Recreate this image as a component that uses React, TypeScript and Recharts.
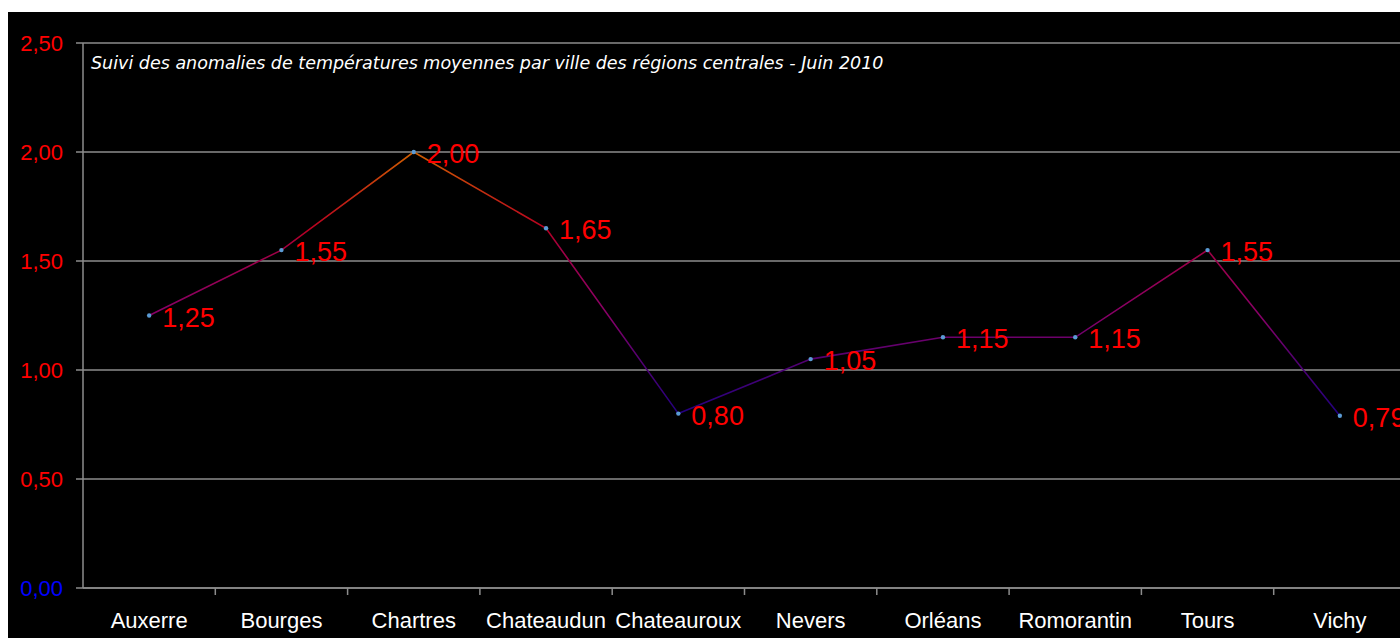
import { LineChart, Line, XAxis, YAxis, CartesianGrid, LabelList } from 'recharts';

const cities = ['Auxerre', 'Bourges', 'Chartres', 'Chateaudun', 'Chateauroux', 'Nevers', 'Orléans', 'Romorantin', 'Tours', 'Vichy'];
const anomalies = [1.25, 1.55, 2.0, 1.65, 0.8, 1.05, 1.15, 1.15, 1.55, 0.79];
const yTicks = [0, 0.5, 1, 1.5, 2, 2.5];
const title = 'Suivi des anomalies de températures moyennes par ville des régions centrales - Juin 2010';

const data = cities.map((city, i) => ({ city, value: anomalies[i] }));

const W = 1420;
const H = 626;
const LEFT = 75;
const RIGHT = 22;
const band = (W - LEFT - RIGHT) / cities.length;
const AXIS_Y = 576;
const font = '"Liberation Sans", Arial, sans-serif';
const fr = (v: number) => v.toFixed(2).replace('.', ',');

const YTick = (props: any) => {
  const { x, y, payload } = props;
  return (
    <text x={x} y={y + 8} textAnchor="end" fontSize={22} fontFamily={font} fill={payload.value === 0 ? '#0000ff' : '#ff0000'}>
      {fr(payload.value)}
    </text>
  );
};

const XTick = (props: any) => {
  const { x, payload } = props;
  const bx = x - band / 2;
  return (
    <g>
      {payload.index > 0 && (
        <line x1={bx} x2={bx} y1={AXIS_Y} y2={AXIS_Y + 7} stroke="#8c8c8c" strokeWidth={1.5} />
      )}
      <text x={x} y={AXIS_Y + 40} textAnchor="middle" fontSize={22} fontFamily={font} fill="#ffffff">
        {payload.value}
      </text>
    </g>
  );
};

const ValueLabel = (props: any) => {
  const { x, y, value } = props;
  return (
    <text x={x + 13} y={y + 11} fontSize={27} fontFamily={font} fill="#ff0000">
      {fr(value)}
    </text>
  );
};

export default function App() {
  return (
    <div style={{ position: 'fixed', left: 8, top: 12, width: 1392, height: H, overflow: 'hidden', background: '#000' }}>
      <LineChart width={W} height={H} data={data} margin={{ top: 31, right: RIGHT, bottom: 0, left: 0 }}>
        <defs>
          <linearGradient id="lineGrad" x1="0" y1="0" x2="0" y2="1">
            <stop offset="0" stopColor="#d06000" />
            <stop offset="0.29" stopColor="#b80020" />
            <stop offset="0.37" stopColor="#a00045" />
            <stop offset="0.62" stopColor="#880068" />
            <stop offset="0.78" stopColor="#550070" />
            <stop offset="1" stopColor="#200080" />
          </linearGradient>
        </defs>
        <CartesianGrid vertical={false} stroke="#8c8c8c" strokeWidth={1.5} />
        <XAxis
          dataKey="city"
          height={50}
          interval={0}
          padding={{ left: band / 2, right: band / 2 }}
          tickLine={false}
          axisLine={{ stroke: '#8c8c8c', strokeWidth: 1.5 }}
          tick={<XTick />}
        />
        <YAxis
          width={LEFT}
          domain={[0, 2.5]}
          ticks={yTicks}
          tickSize={7}
          tickMargin={13}
          tickLine={{ stroke: '#8c8c8c', strokeWidth: 1.5 }}
          axisLine={{ stroke: '#8c8c8c', strokeWidth: 1.5 }}
          tick={<YTick />}
        />
        <Line
          type="linear"
          dataKey="value"
          stroke="url(#lineGrad)"
          strokeWidth={1.6}
          dot={{ r: 2.2, fill: '#5b9bd5', stroke: 'none' }}
          activeDot={false}
          isAnimationActive={false}
        >
          <LabelList dataKey="value" content={<ValueLabel />} />
        </Line>
      </LineChart>
      <div
        style={{
          position: 'absolute',
          left: 83,
          top: 43,
          fontFamily: '"DejaVu Sans", Verdana, sans-serif',
          fontStyle: 'italic',
          fontSize: 17.5,
          lineHeight: '17.5px',
          color: '#ffffff',
          whiteSpace: 'nowrap',
        }}
      >
        {title}
      </div>
    </div>
  );
}
